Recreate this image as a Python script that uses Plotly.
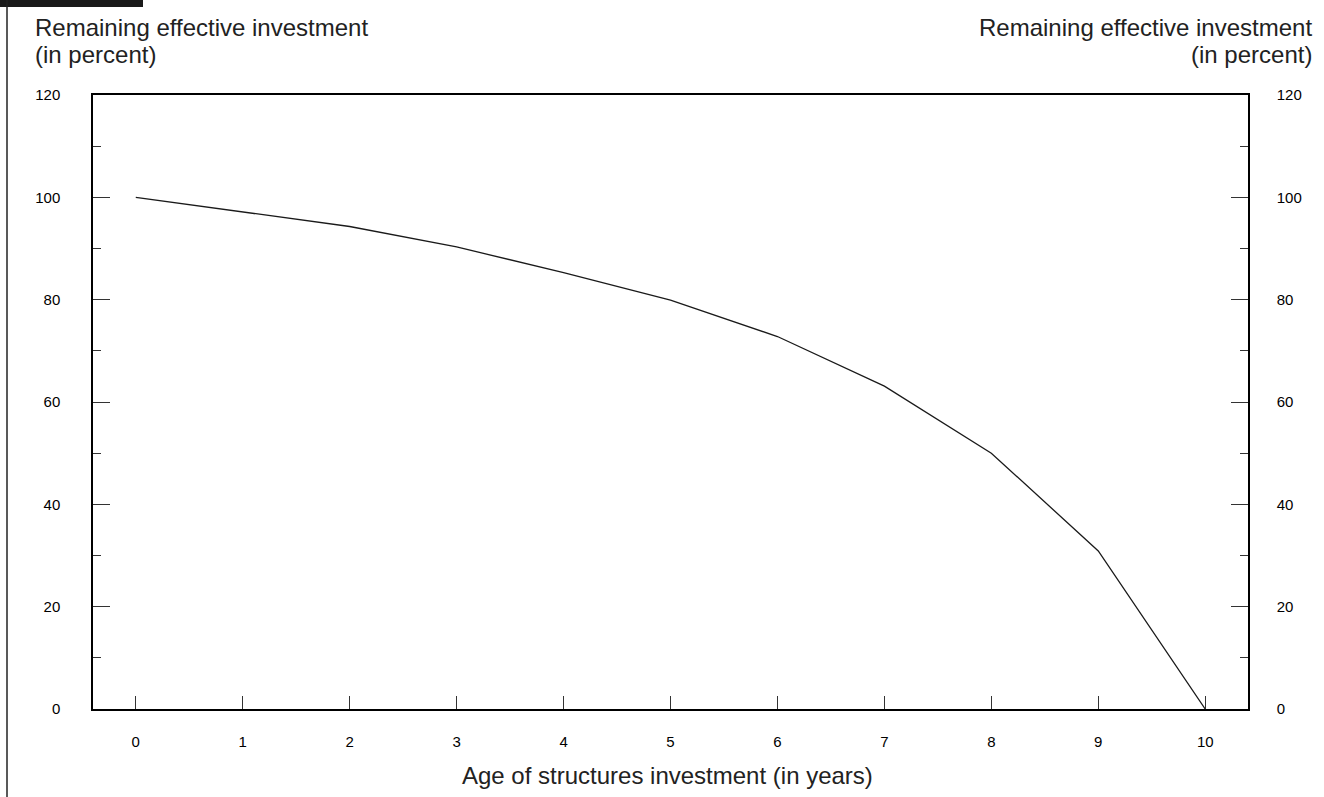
import plotly.graph_objects as go

age_years = [0, 1, 2, 3, 4, 5, 6, 7, 8, 9, 10]
remaining_pct = [100, 97.1, 94.3, 90.3, 85.3, 79.9, 72.8, 63.1, 50.0, 30.9, 0]
y_ticks = [0, 20, 40, 60, 80, 100, 120]
x_ticks = [0, 1, 2, 3, 4, 5, 6, 7, 8, 9, 10]

FONT = "Liberation Sans, Arial, sans-serif"
W, H = 1324, 797
L, R, T, B = 93, 76, 95, 88
PW, PH = W - L - R, H - T - B


def px(x):
    return (x - L) / PW


def py(y):
    return (H - B - y) / PH


fig = go.Figure()
fig.add_trace(go.Scatter(x=age_years, y=remaining_pct, mode="lines",
                         line=dict(color="#1a1a1a", width=1.3), showlegend=False))
fig.add_trace(go.Scatter(x=age_years, y=remaining_pct, mode="lines", yaxis="y2",
                         line=dict(color="rgba(0,0,0,0)", width=0), showlegend=False,
                         hoverinfo="skip"))

yax = dict(range=[0, 120], tickvals=y_ticks, ticks="inside", ticklen=17, tickwidth=1,
           tickcolor="#333", showgrid=False, zeroline=False, showline=True,
           linecolor="black", linewidth=1.5,
           minor=dict(dtick=10, ticks="inside", ticklen=8, tickcolor="#333", showgrid=False),
           tickfont=dict(family=FONT, size=15, color="black"))

title_font = dict(family=FONT, size=24, color="#222")

fig.update_layout(
    width=W, height=H,
    margin=dict(l=L, r=R, t=T, b=B),
    paper_bgcolor="white", plot_bgcolor="white",
    xaxis=dict(range=[-0.4, 10.4], tickvals=x_ticks, ticks="inside", ticklen=13,
               tickwidth=1, tickcolor="#333", showgrid=False, zeroline=False,
               showline=True, linecolor="black", linewidth=1.5, mirror=True,
               tickfont=dict(family=FONT, size=15, color="black"), ticklabelstandoff=18),
    yaxis=dict(**yax, side="left", ticklabelstandoff=28),
    yaxis2=dict(**yax, side="right", overlaying="y", ticklabelstandoff=24),
    annotations=[
        dict(text="Remaining effective investment", xref="paper", yref="paper",
             x=px(33), y=py(28), xanchor="left", yanchor="middle",
             showarrow=False, font=title_font),
        dict(text="(in percent)", xref="paper", yref="paper",
             x=px(33), y=py(55), xanchor="left", yanchor="middle",
             showarrow=False, font=title_font),
        dict(text="Remaining effective investment", xref="paper", yref="paper",
             x=px(1314), y=py(28), xanchor="right", yanchor="middle",
             showarrow=False, font=title_font),
        dict(text="(in percent)", xref="paper", yref="paper",
             x=px(1314), y=py(55), xanchor="right", yanchor="middle",
             showarrow=False, font=title_font),
        dict(text="Age of structures investment (in years)", xref="paper", yref="paper",
             x=px(667), y=py(775), xanchor="center", yanchor="middle",
             showarrow=False, font=title_font),
    ],
    shapes=[
        dict(type="rect", xref="paper", yref="paper", x0=px(0), x1=px(143),
             y0=py(7), y1=py(0), fillcolor="#1a1a1a", line=dict(width=0)),
        dict(type="line", xref="paper", yref="paper", x0=px(7), x1=px(7),
             y0=py(797), y1=py(0), line=dict(color="#222", width=1.5)),
    ],
)

fig.write_html("out.html", config={"displayModeBar": False},
               post_script="document.body.style.margin='0';")
